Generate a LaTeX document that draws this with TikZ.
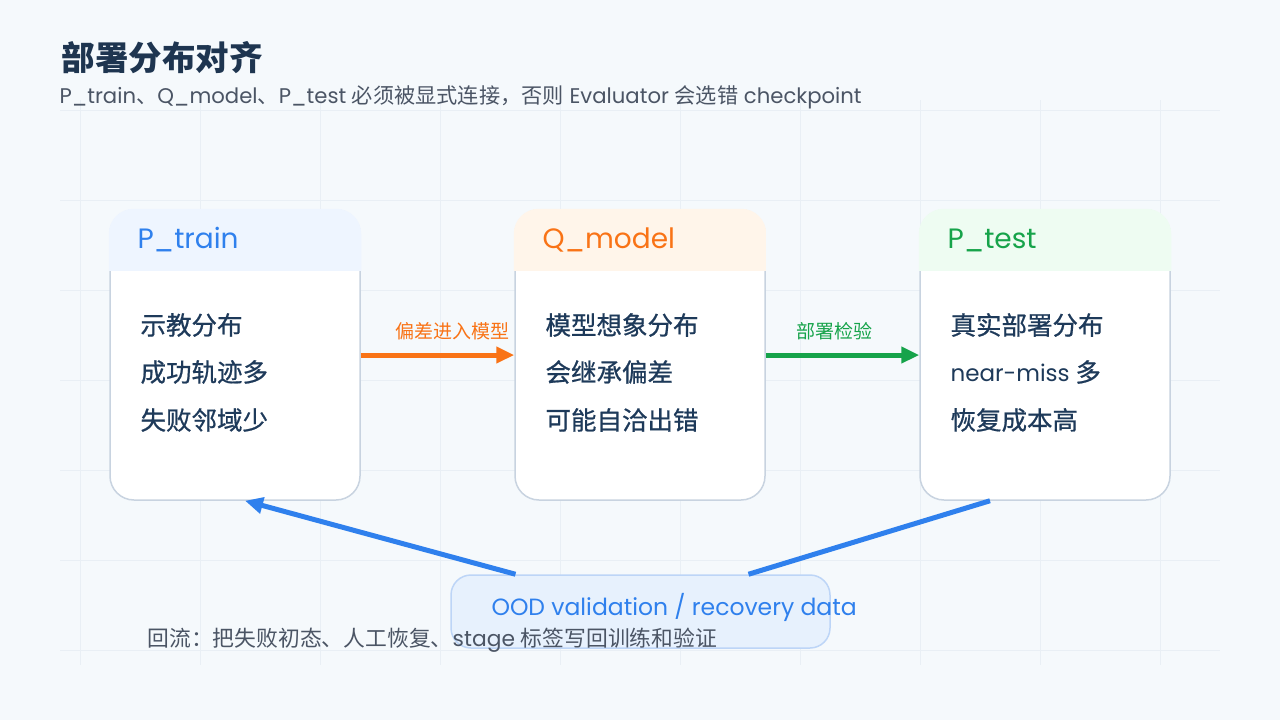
\documentclass[tikz,border=0pt]{standalone}
\usepackage{fontspec}
\setmainfont{Poppins}
\newfontfamily\cjkfont{Noto Sans CJK SC}
\newfontfamily\cjkbody[FakeBold=0.7]{Noto Sans CJK SC}
\newcommand{\zh}[1]{{\cjkfont #1}}
\usetikzlibrary{arrows.meta}

\definecolor{bgcol}{HTML}{F5F9FC}
\definecolor{gridcol}{HTML}{E9EFF5}
\definecolor{titlecol}{HTML}{1E3550}
\definecolor{subcol}{HTML}{4B5565}
\definecolor{inkcol}{HTML}{1E3A5A}
\definecolor{cardline}{HTML}{C8D3E0}
\definecolor{flowblue}{HTML}{2F80ED}
\definecolor{floworange}{HTML}{F97316}
\definecolor{flowgreen}{HTML}{16A34A}
\definecolor{hdrblue}{HTML}{EEF5FF}
\definecolor{hdrorange}{HTML}{FFF5EA}
\definecolor{hdrgreen}{HTML}{EEFCF2}
\definecolor{oodfill}{HTML}{E7F1FD}
\definecolor{oodline}{HTML}{BDD5F7}

\begin{document}
\begin{tikzpicture}[x=1pt,y=-1pt,
    gridline/.style={draw=gridcol, line width=1pt},
    card/.style={draw=cardline, line width=1.5pt, fill=white, rounded corners=24pt,
        minimum width=250pt, minimum height=290pt},
    cardtitle/.style={anchor=west, font=\fontsize{28}{33}\selectfont},
    cardtext/.style={anchor=west, text=inkcol, font=\cjkbody\fontsize{25.5}{30}\selectfont},
    flowlabel/.style={font=\cjkfont\fontsize{19}{22}\selectfont},
    flow/.style={line width=5pt, -{Triangle[length=18pt,width=16pt]}}]
    \useasboundingbox (0,0) rectangle (1280,720);
    \fill[bgcol] (0,0) rectangle (1280,720);

    % grid
    \foreach \gx in {80,200,...,1160}
        \draw[gridline] (\gx,100) -- (\gx,665);
    \foreach \gy in {110,200,...,650}
        \draw[gridline] (60,\gy) -- (1220,\gy);

    \node[anchor=west, text=titlecol, font=\cjkfont\bfseries\fontsize{33.5}{40}\selectfont] (title) at (58,58) {部署分布对齐};
    \node[anchor=west, text=subcol, font=\fontsize{21.2}{25}\selectfont] (subtitle) at (56,97)
        {P\_train\zh{、}Q\_model\zh{、}P\_test \zh{必须被显式连接，否则} Evaluator \zh{会选错} checkpoint};

    \node[card] (ptrain) at (235,355) {};
    \node[card] (qmodel) at (640,355) {};
    \node[card] (ptest)  at (1045,355) {};

    \foreach \nm/\hc in {ptrain/hdrblue, qmodel/hdrorange, ptest/hdrgreen} {
        \begin{scope}
            \clip[rounded corners=25pt] ([shift={(-0.5pt,0.5pt)}]\nm.south west) rectangle ([shift={(0.5pt,0.5pt)}]\nm.north east);
            \fill[\hc] ([shift={(-1pt,1pt)}]\nm.north west) rectangle ([shift={(1pt,-62pt)}]\nm.north east);
        \end{scope}
    }

    \node[cardtitle, text=flowblue]   (ptrainhd) at (134,240) {P\_train};
    \node[cardtitle, text=floworange] (qmodelhd) at (539,240) {Q\_model};
    \node[cardtitle, text=flowgreen]  (ptesthd)  at (944,240) {P\_test};

    \node[cardtext] (pt1) at (137,325) {示教分布};
    \node[cardtext] (pt2) at (137,372) {成功轨迹多};
    \node[cardtext] (pt3) at (137,420) {失败邻域少};

    \node[cardtext] (qm1) at (542,325) {模型想象分布};
    \node[cardtext] (qm2) at (542,372) {会继承偏差};
    \node[cardtext] (qm3) at (542,420) {可能自洽出错};

    \node[cardtext] (ps1) at (947,325) {真实部署分布};
    \node[cardtext] (ps2) at (947,372) {{\fontspec{Poppins}\fontsize{23}{28}\selectfont near-miss} 多};
    \node[cardtext] (ps3) at (947,420) {恢复成本高};

    \draw[flow, floworange] (ptrain.east) -- (qmodel.west);
    \draw[flow, flowgreen]  (qmodel.east) -- (ptest.west);
    \node[flowlabel, text=floworange] (biaslbl) at (452,331) {偏差进入模型};
    \node[flowlabel, text=flowgreen]  (testlbl) at (834,331) {部署检验};

    \node[draw=oodline, line width=1.5pt, fill=oodfill, rounded corners=20pt,
        minimum width=379pt, minimum height=73pt] (ood) at (640.5,611.5) {};
    \draw[flow, flowblue] ([xshift=-125pt]ood.north) -- ([xshift=10pt]ptrain.south);
    \draw[line width=5pt, flowblue] ([xshift=108pt]ood.north) -- ([xshift=-55pt]ptest.south);
    \node[anchor=west, text=flowblue, font=\fontsize{23.5}{28}\selectfont] (oodtxt) at (488,607)
        {OOD validation / recovery data};

    \node[anchor=west, text=subcol, font=\fontsize{21.8}{26}\selectfont] (backflow) at (144,640)
        {\zh{回流：把失败初态、人工恢复、}stage \zh{标签写回训练和验证}};
\end{tikzpicture}
\end{document}
